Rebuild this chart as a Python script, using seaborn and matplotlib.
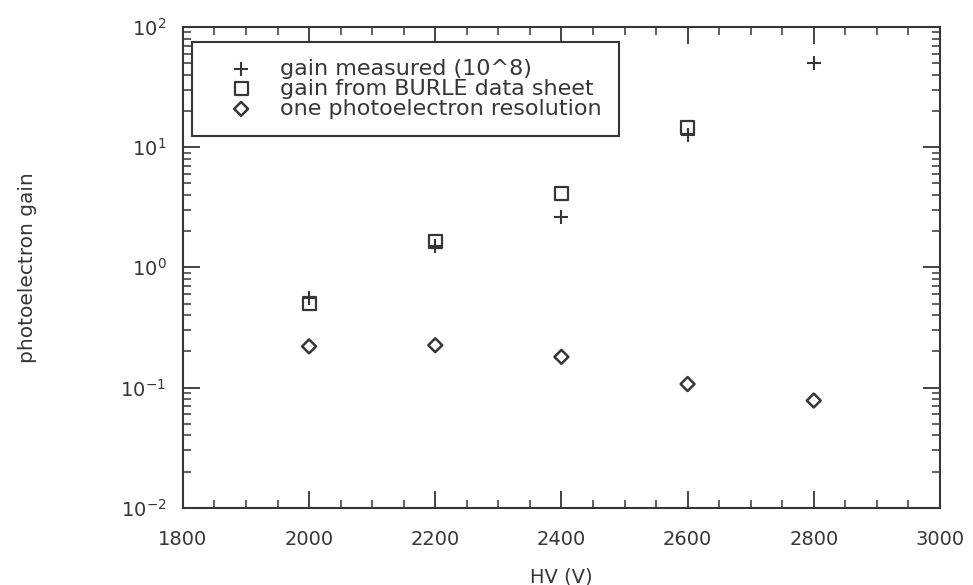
import numpy as np
import pandas as pd
import matplotlib
matplotlib.use("Agg")
import matplotlib.pyplot as plt
from matplotlib.ticker import MultipleLocator, LogLocator, NullFormatter
import seaborn as sns

# High-voltage settings (V)
hv = [2000, 2200, 2400, 2600, 2800]
# Measured gain in units of 10^8
gain_measured = [0.56, 1.5, 2.6, 12.5, 50]
# Gain quoted in the BURLE data sheet
hv_burle = [2000, 2200, 2400, 2600]
gain_burle = [0.5, 1.65, 4.1, 14.5]
# One-photoelectron resolution
resolution = [0.22, 0.225, 0.18, 0.107, 0.078]

labels = ["gain measured (10^8)", "gain from BURLE data sheet",
          "one photoelectron resolution"]

ink = "#363636"

sns.set_theme(style="ticks")
plt.rcParams["font.family"] = ["DejaVu Sans"]
plt.rcParams["mathtext.fontset"] = "dejavusans"

fig = plt.figure(figsize=(9.73, 5.85), dpi=100)
ax = fig.add_axes([0.188, 0.132, 0.778, 0.822])

df_meas = pd.DataFrame({"HV": hv, "gain": gain_measured})
df_burle = pd.DataFrame({"HV": hv_burle, "gain": gain_burle})
df_res = pd.DataFrame({"HV": hv, "gain": resolution})

sns.scatterplot(data=df_meas, x="HV", y="gain", ax=ax, marker="+", s=110,
                color=ink, linewidth=1.5, label=labels[0])
sns.scatterplot(data=df_burle, x="HV", y="gain", ax=ax, marker="s", s=90,
                facecolor="none", edgecolor=ink, linewidth=1.6, label=labels[1])
sns.scatterplot(data=df_res, x="HV", y="gain", ax=ax, marker="D", s=50,
                facecolor="none", edgecolor=ink, linewidth=1.8, label=labels[2])

ax.set_yscale("log")
ax.set_xlim(1800, 3000)
ax.set_ylim(1e-2, 1e2)

ax.xaxis.set_major_locator(MultipleLocator(200))
ax.xaxis.set_minor_locator(MultipleLocator(50))
ax.yaxis.set_major_locator(LogLocator(base=10, numticks=10))
ax.yaxis.set_minor_locator(LogLocator(base=10, subs=np.arange(2, 10), numticks=20))
ax.yaxis.set_minor_formatter(NullFormatter())

ax.tick_params(which="both", direction="in", top=True, right=True,
               color=ink, labelcolor=ink, labelsize=14)
ax.tick_params(which="major", length=12, width=1.3)
ax.tick_params(which="minor", length=6, width=1.1)
ax.tick_params(axis="x", pad=16)
ax.tick_params(axis="y", pad=12)

for sp in ax.spines.values():
    sp.set_color(ink)
    sp.set_linewidth(1.5)

ax.set_xlabel("HV (V)", fontsize=14, color=ink, labelpad=13)
ax.set_ylabel("photoelectron gain", fontsize=14.5, color=ink, labelpad=60)

leg = ax.legend(loc="upper left", bbox_to_anchor=(0.012, 0.969), fontsize=16,
                frameon=True, fancybox=False, edgecolor=ink, framealpha=1,
                handletextpad=0.3, borderpad=0.76, labelspacing=0.0,
                handlelength=2.9, borderaxespad=0.0)
leg.get_frame().set_linewidth(1.5)
for t in leg.get_texts():
    t.set_color(ink)

fig.savefig("out.png", dpi=100, facecolor="white")
